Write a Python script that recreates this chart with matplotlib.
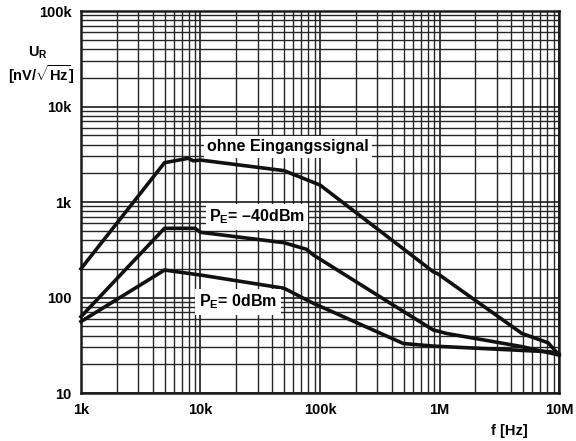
import matplotlib
matplotlib.use("Agg")
import matplotlib.pyplot as plt
from matplotlib.ticker import FixedLocator, LogLocator, NullFormatter

plt.rcParams['font.family'] = ['Liberation Sans', 'DejaVu Sans']
plt.rcParams['mathtext.fontset'] = 'custom'
plt.rcParams['mathtext.rm'] = 'Liberation Sans:bold'
plt.rcParams['mathtext.bf'] = 'Liberation Sans:bold'
plt.rcParams['mathtext.it'] = 'Liberation Sans:bold'

# noise voltage curves
f_ohne = [1e3, 5e3, 7.9e3, 8.7e3, 10e3, 50e3, 100e3, 887e3, 977e3, 4.9e6, 8.1e6, 10e6]
u_ohne = [200, 2580, 2870, 2700, 2750, 2130, 1507, 186, 176, 42, 33.6, 25]

f_m40 = [1e3, 5e3, 9e3, 10e3, 50e3, 77e3, 88e3, 400e3, 887e3, 1.15e6, 4.9e6, 10e6]
u_m40 = [63, 531, 531, 482, 375, 320, 279, 85, 45.7, 42, 30.6, 25]

f_0 = [1e3, 5e3, 8.7e3, 10e3, 50e3, 88e3, 498e3, 887e3, 8.5e6, 10e6]
u_0 = [56, 194, 176, 172, 125, 87, 33, 31, 27, 25.5]

xticks = [1e3, 1e4, 1e5, 1e6, 1e7]
xlabels = ['1k', '10k', '100k', '1M', '10M']
yticks = [10, 100, 1e3, 1e4, 1e5]
ylabels = ['10', '100', '1k', '10k', '100k']

fig = plt.figure(figsize=(5.76, 4.41), dpi=100)
ax = fig.add_axes([0.1406, 0.1088, 0.8299, 0.8662])
ax.set_xscale('log')
ax.set_yscale('log')
ax.set_xlim(1e3, 1e7)
ax.set_ylim(10, 1e5)

ax.xaxis.set_major_locator(FixedLocator(xticks))
ax.yaxis.set_major_locator(FixedLocator(yticks))
ax.xaxis.set_minor_locator(LogLocator(base=10, subs=range(2, 10)))
ax.yaxis.set_minor_locator(LogLocator(base=10, subs=range(2, 10)))
ax.xaxis.set_minor_formatter(NullFormatter())
ax.yaxis.set_minor_formatter(NullFormatter())
ax.set_xticklabels(xlabels, fontweight='bold', fontsize=10.5)
ax.set_yticklabels(ylabels, fontweight='bold', fontsize=10.5)
ax.tick_params(which='both', length=0, pad=7)

ax.grid(which='major', color='#1a1a1a', lw=1.2)
ax.grid(which='minor', color='#262626', lw=1.0)
for s in ax.spines.values():
    s.set_linewidth(1.8)
    s.set_color('#1a1a1a')

for fx, uy in [(f_ohne, u_ohne), (f_m40, u_m40), (f_0, u_0)]:
    ax.plot(fx, uy, color='#111111', lw=2.6, solid_joinstyle='miter', zorder=3, clip_on=False)

box = dict(facecolor='white', edgecolor='none', pad=2.5)
ax.text(5.4e4, 3770, 'ohne Eingangssignal', ha='center', va='center', fontsize=11.5,
        fontweight='bold', bbox=box, zorder=4)
ax.text(2.97e4, 697, 'P$_\\mathrm{E}$= \u201340dBm', ha='center', va='center', fontsize=11.5,
        fontweight='bold', bbox=box, zorder=4)
ax.text(2.06e4, 90, 'P$_\\mathrm{E}$= 0dBm', ha='center', va='center', fontsize=11.5,
        fontweight='bold', bbox=box, zorder=4)

fig.text(0.065, 0.880, r'U$_\mathrm{R}$', ha='center', va='center', fontsize=10.5, fontweight='bold')
fig.text(0.072, 0.832, r'[nV/$\sqrt{\mathrm{Hz}}$]', ha='center', va='center', fontsize=10.5,
         fontweight='bold')
fig.text(0.885, 0.022, 'f [Hz]', ha='center', va='center', fontsize=10.5, fontweight='bold')

fig.savefig('out.png', dpi=100)
